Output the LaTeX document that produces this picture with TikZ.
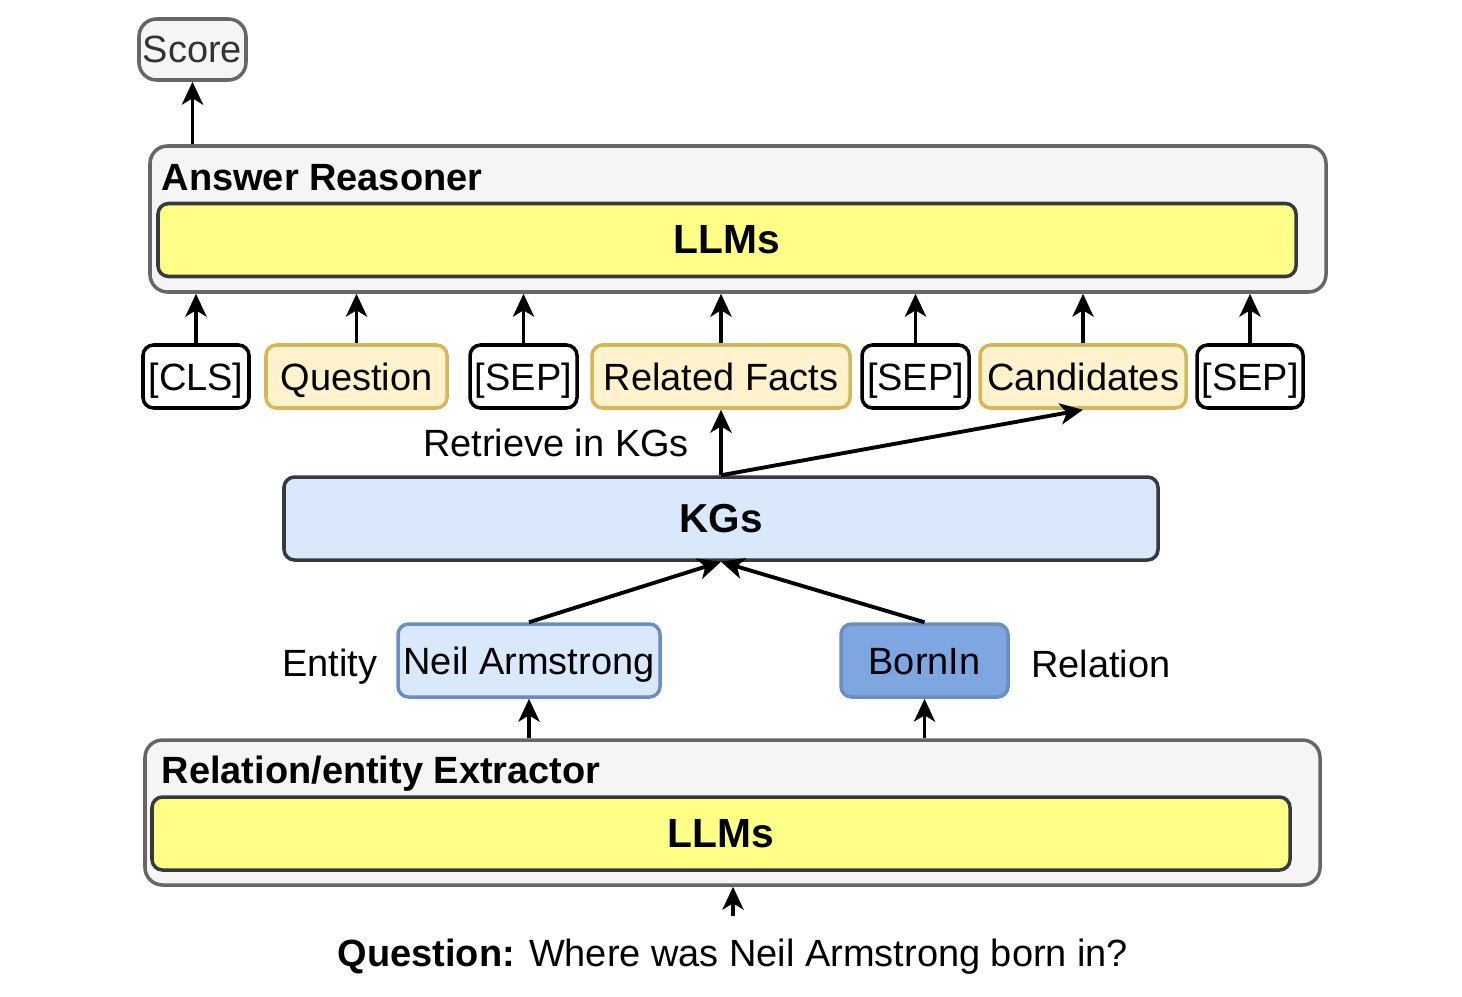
\documentclass[tikz,border=0pt]{standalone}
\usepackage{fontspec}
\setmainfont{Liberation Sans}
\usepackage{tikz}
\usetikzlibrary{arrows.meta, positioning}
\definecolor{boxfill}{HTML}{F5F5F5}
\definecolor{boxline}{HTML}{666666}
\definecolor{llmyellow}{HTML}{FFFF88}
\definecolor{darkline}{HTML}{36393D}
\definecolor{tokfill}{HTML}{FFF2CC}
\definecolor{tokline}{HTML}{D6B656}
\definecolor{kgfill}{HTML}{DAE8FC}
\definecolor{kgline}{HTML}{6C8EBF}
\definecolor{relfill}{HTML}{7EA6E0}

\begin{document}
\begin{tikzpicture}[
  font=\fontsize{10.8}{13}\selectfont,
  outerbox/.style={draw=boxline, fill=boxfill, rounded corners=5pt, line width=1pt, inner sep=0pt},
  llmbox/.style={draw=darkline, fill=llmyellow, rounded corners=3pt, line width=1pt, inner sep=0pt, minimum width=11.38cm, minimum height=0.73cm, font=\fontsize{11.6}{14}\selectfont\bfseries},
  sepbox/.style={draw=black, fill=white, rounded corners=3pt, line width=1pt, inner sep=0pt, minimum height=0.63cm, text height=0.78em, text depth=0pt},
  inbox/.style={draw=tokline, fill=tokfill, rounded corners=3pt, line width=1pt, inner sep=0pt, minimum height=0.63cm, text height=0.78em, text depth=0pt},
  kgbox/.style={draw=kgline, fill=kgfill, rounded corners=3pt, line width=1pt, inner sep=0pt, minimum height=0.73cm, text height=0.8em, text depth=0pt},
  arr/.style={-{Stealth[length=6.5pt, width=6pt, inset=1.8pt]}, line width=1.1pt}
]
  \useasboundingbox (0,0) rectangle (14.62,-9.96);

  % answer reasoner
  \node[outerbox, text=black!80, minimum width=1.07cm, minimum height=0.61cm] (score) at (1.925,-0.495) {Score};
  \node[outerbox, minimum width=11.76cm, minimum height=1.46cm] (reasoner) at (7.38,-2.19) {};
  \node[anchor=base west, inner sep=0pt, font=\fontsize{10.8}{13}\selectfont\bfseries] (rtitle) at (1.61,-1.90) {Answer Reasoner};
  \node[llmbox] (llmtop) at (7.27,-2.40) {LLMs};

  % input sequence
  \node[sepbox, minimum width=1.06cm] (cls) at (1.96,-3.765) {[CLS]};
  \node[inbox, minimum width=1.81cm] (quest) at (3.565,-3.765) {Question};
  \node[sepbox, minimum width=1.07cm] (sepa) at (5.235,-3.765) {[SEP]};
  \node[inbox, minimum width=2.58cm] (facts) at (7.21,-3.765) {Related Facts};
  \node[sepbox, minimum width=1.07cm] (sepb) at (9.155,-3.765) {[SEP]};
  \node[inbox, minimum width=2.06cm] (cand) at (10.83,-3.765) {Candidates};
  \node[sepbox, minimum width=1.06cm] (sepc) at (12.50,-3.765) {[SEP]};

  \node (retrieve) at (5.56,-4.43) {Retrieve in KGs};

  % knowledge graph
  \node[kgbox, draw=darkline, minimum width=8.74cm, minimum height=0.83cm, font=\fontsize{11.5}{14}\selectfont\bfseries] (kgs) at (7.21,-5.185) {KGs};
  \node[kgbox, minimum width=2.62cm] (neil) at (5.29,-6.605) {Neil Armstrong};
  \node[kgbox, fill=relfill, minimum width=1.67cm] (bornin) at (9.245,-6.605) {BornIn};
  \node (entity) at (3.30,-6.67) {Entity};
  \node (relation) at (11.01,-6.64) {Relation};

  % extractor
  \node[outerbox, minimum width=11.75cm, minimum height=1.45cm] (extractor) at (7.325,-8.125) {};
  \node[anchor=base west, inner sep=0pt, font=\fontsize{10.8}{13}\selectfont\bfseries] (etitle) at (1.61,-7.83) {Relation/entity Extractor};
  \node[llmbox] (llmbot) at (7.21,-8.335) {LLMs};

  \node (question) at (7.33,-9.57) {\textbf{Question:} Where was Neil Armstrong born in?};

  % connectors
  \draw[arr] (reasoner.north -| score.south) -- (score.south);
  \foreach \t in {cls, quest, sepa, facts, sepb, cand, sepc}
    \draw[arr] (\t.north) -- (\t.north |- reasoner.south);
  \draw[arr] (kgs.north) -- (facts.south);
  \draw[arr] (kgs.north) -- (cand.south);
  \draw[arr] (neil.north) -- (kgs.south);
  \draw[arr] (bornin.north) -- (kgs.south);
  \draw[arr] (neil.south |- extractor.north) -- (neil.south);
  \draw[arr] (bornin.south |- extractor.north) -- (bornin.south);
  \draw[arr] ([yshift=3pt]question.north) -- (question.north |- extractor.south);
\end{tikzpicture}
\end{document}
